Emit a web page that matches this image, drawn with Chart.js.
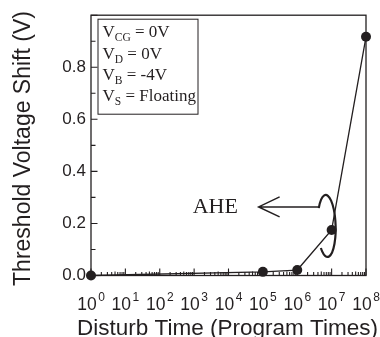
<!DOCTYPE html>
<html><head><meta charset="utf-8">
<script src="https://cdn.jsdelivr.net/npm/chart.js@4.4.1/dist/chart.umd.min.js"></script>
<style>html,body{margin:0;padding:0;background:#fff;}</style>
</head><body>
<canvas id="c" width="380" height="337"></canvas>
<script>
// ---- data ----
const disturbTimes = [1, 1e5, 1e6, 1e7, 1e8];
const vtShift = [0.0, 0.014, 0.021, 0.175, 0.917];
const xDecades = [0, 1, 2, 3, 4, 5, 6, 7, 8];
const yMajorTicks = [0, 0.2, 0.4, 0.6, 0.8, 1.0];
const yMinorTicks = [0.1, 0.3, 0.5, 0.7, 0.9];
const legendLines = [
  ['V', 'CG', ' = 0V'],
  ['V', 'D', ' = 0V'],
  ['V', 'B', ' = -4V'],
  ['V', 'S', ' = Floating']
];
const annotationText = 'AHE';
const xTitle = 'Disturb Time (Program Times)';
const yTitle = 'Threshold Voltage Shift (V)';

const INK = '#231f20';
const SANS = '"Liberation Sans", Arial, Helvetica, sans-serif';
const SERIF = '"Liberation Serif", "Times New Roman", Times, serif';

const decorPlugin = {
  id: 'decor',
  beforeDatasetsDraw(chart) {
    const {ctx, chartArea: a, scales: {x, y}} = chart;
    ctx.save();
    ctx.strokeStyle = INK;
    ctx.lineWidth = 1.3;
    ctx.strokeRect(a.left, a.top, a.right - a.left, a.bottom - a.top);
    ctx.lineWidth = 1.1;
    ctx.beginPath();
    // y ticks (inward)
    yMajorTicks.forEach(v => { const py = y.getPixelForValue(v); ctx.moveTo(a.left, py); ctx.lineTo(a.left + 6.5, py); });
    yMinorTicks.forEach(v => { const py = y.getPixelForValue(v); ctx.moveTo(a.left, py); ctx.lineTo(a.left + 4.5, py); });
    // x ticks (inward)
    xDecades.forEach(d => {
      const px = x.getPixelForValue(Math.pow(10, d));
      ctx.moveTo(px, a.bottom); ctx.lineTo(px, a.bottom - 7);
      if (d < 8) {
        for (let m = 2; m <= 9; m++) {
          const pm = x.getPixelForValue(m * Math.pow(10, d));
          ctx.moveTo(pm, a.bottom); ctx.lineTo(pm, a.bottom - (m === 5 ? 4 : 3.5));
        }
      }
    });
    ctx.stroke();

    // legend box
    ctx.lineWidth = 1;
    ctx.strokeRect(a.left + 7, a.top + 4, 100, 95);
    ctx.fillStyle = INK;
    ctx.textBaseline = 'alphabetic';
    legendLines.forEach((ln, i) => {
      let tx = a.left + 11.5;
      const by = a.top + 22 + i * 21.3;
      ctx.font = '17px ' + SERIF;
      ctx.fillText(ln[0], tx, by); tx += ctx.measureText(ln[0]).width;
      ctx.font = '11.5px ' + SERIF;
      ctx.fillText(ln[1], tx, by + 4); tx += ctx.measureText(ln[1]).width;
      ctx.font = '17px ' + SERIF;
      ctx.fillText(ln[2], tx, by);
    });
    ctx.restore();
  },
  afterDraw(chart) {
    const {ctx, chartArea: a, scales: {x, y}} = chart;
    ctx.save();
    ctx.fillStyle = INK;
    ctx.strokeStyle = INK;
    // x tick labels with superscripts
    ctx.textBaseline = 'alphabetic';
    xDecades.forEach(d => {
      const px = x.getPixelForValue(Math.pow(10, d));
      ctx.font = '17.5px ' + SANS;
      const w1 = ctx.measureText('10').width;
      ctx.font = '12px ' + SANS;
      const w2 = ctx.measureText(String(d)).width;
      const start = px - (w1 + 1.5 + w2) / 2;
      ctx.font = '17.5px ' + SANS;
      ctx.fillText('10', start, a.bottom + 34.5);
      ctx.font = '12px ' + SANS;
      ctx.fillText(String(d), start + w1 + 1.5, a.bottom + 25.5);
    });
    // x title
    ctx.font = '22.5px ' + SANS;
    ctx.textAlign = 'center';
    ctx.fillText(xTitle, (a.left + a.right) / 2 - 1, a.bottom + 59.5);
    // y title
    ctx.save();
    ctx.translate(24, 148.5);
    ctx.rotate(-Math.PI / 2);
    ctx.textBaseline = 'middle';
    ctx.font = '23px ' + SANS;
    ctx.fillText(yTitle, 0, 0);
    ctx.restore();

    // AHE annotation anchored at the 10^7 point
    const px = x.getPixelForValue(disturbTimes[3]);
    const py = y.getPixelForValue(vtShift[3]);
    const cx = px - 5, cy = py - 4, rx = 9, ry = 31;
    const a0 = Math.PI + 0.62, a1 = 2 * Math.PI + 2.36;
    ctx.lineWidth = 2.2;
    ctx.beginPath();
    ctx.ellipse(cx, cy, rx, ry, -0.03, a0, a1, false);
    ctx.stroke();
    const jx = cx + rx * Math.cos(a0) - 1, jy = py - 23;
    ctx.lineWidth = 1.5;
    ctx.beginPath();
    ctx.moveTo(jx, jy); ctx.lineTo(px - 73, jy);
    ctx.moveTo(px - 52, jy - 10); ctx.lineTo(px - 73, jy); ctx.lineTo(px - 52, jy + 10);
    ctx.stroke();
    ctx.textAlign = 'left';
    ctx.textBaseline = 'alphabetic';
    ctx.font = '22px ' + SERIF;
    ctx.fillText(annotationText, px - 139, py - 17);
    ctx.restore();
  }
};

new Chart(document.getElementById('c'), {
  type: 'scatter',
  data: {
    datasets: [{
      data: disturbTimes.map((t, i) => ({x: t, y: vtShift[i]})),
      showLine: true,
      borderColor: INK,
      borderWidth: 1.3,
      backgroundColor: INK,
      pointBackgroundColor: INK,
      pointBorderColor: INK,
      pointRadius: 5,
      pointBorderWidth: 0,
      clip: false
    }]
  },
  options: {
    responsive: false,
    animation: false,
    devicePixelRatio: 1,
    layout: {padding: {top: 9, right: 14, left: 0, bottom: 0}},
    plugins: {legend: {display: false}, tooltip: {enabled: false}},
    scales: {
      x: {
        type: 'logarithmic', min: 1, max: 1e8,
        ticks: {display: false},
        grid: {display: false, drawTicks: false},
        border: {display: false},
        afterFit: s => { s.height = 61.5; }
      },
      y: {
        type: 'linear', min: 0, max: 1,
        ticks: {
          stepSize: 0.2, padding: 5, color: INK,
          font: {family: SANS, size: 17},
          callback: v => (Math.abs(v - 1) < 1e-9 ? '' : v.toFixed(1))
        },
        grid: {display: false, drawTicks: false},
        border: {display: false},
        afterFit: s => { s.width = 91; }
      }
    }
  },
  plugins: [decorPlugin]
});
</script>
</body></html>
